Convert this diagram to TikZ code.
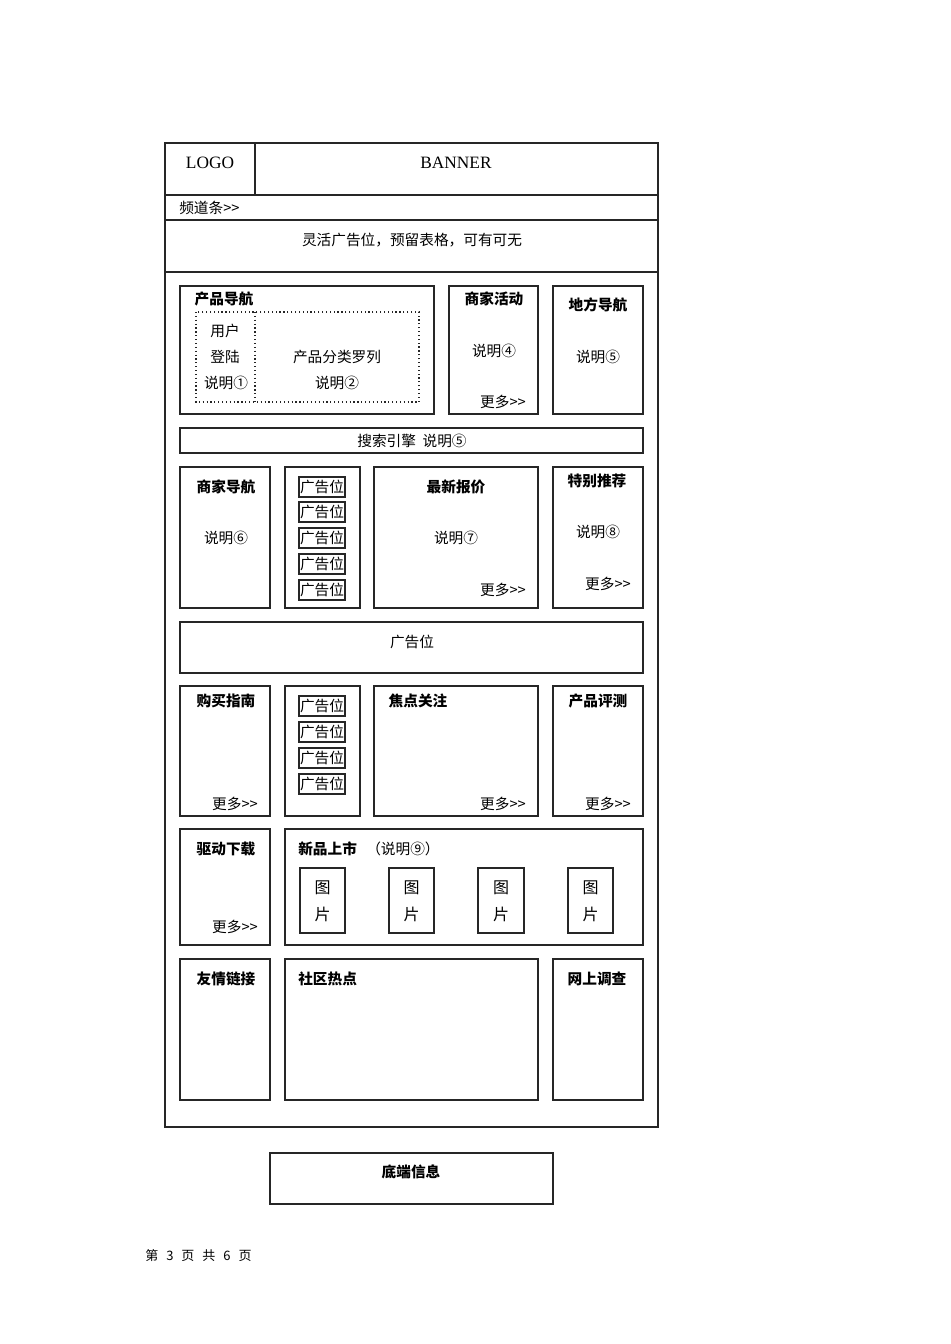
\documentclass[tikz,border=0pt]{standalone}
\usepackage{fontspec}
\setmainfont{Liberation Serif}
\newfontfamily\cjk{Noto Sans CJK SC}
\newfontfamily\cjkb{Noto Sans CJK SC}[BoldFont={Noto Sans CJK SC Bold}]
\begin{document}
\begin{tikzpicture}[x=0.75pt,y=-0.75pt,
  frame/.style={draw=black!85,line width=1.1pt},
  inner/.style={draw=black!85,line width=1pt},
  adbox/.style={draw=black!85,line width=0.9pt,minimum width=34.5pt,minimum height=15pt,inner sep=0pt,font=\cjk\fontsize{11}{12}\selectfont},
  picbox/.style={draw=black!85,line width=1pt},
  lbl/.style={font=\cjk\fontsize{11}{12}\selectfont,inner sep=0pt},
  ttl/.style={font=\cjk\bfseries\fontsize{11}{12}\selectfont,inner sep=0pt},
  lat/.style={font=\fontsize{13}{14}\selectfont,inner sep=0pt}]
\useasboundingbox (0,0) rectangle (950,1344);
% outer frame
\draw[frame] (165,143) rectangle (658,1127);
\draw[frame] (255,143) -- (255,195);
\draw[frame] (165,195) -- (658,195);
\draw[frame] (165,220) -- (658,220);
\draw[frame] (165,272) -- (658,272);
\node[lat] (logo) at (210,163) {LOGO};
\node[lat] (banner) at (456,163) {BANNER};
\node[lbl,anchor=west] (chan) at (179,208) {频道条>>};
\node[lbl] (flex) at (412,240) {灵活广告位，预留表格，可有可无};
% row 1
\draw[inner] (180,286) rectangle (434,414);
\node[ttl] (pnav) at (224,299) {产品导航};
\draw[black!85,line width=0.9pt,dotted] (196,312) rectangle (419,402);
\draw[black!85,line width=0.9pt,dotted] (255,312) -- (255,402);
\node[lbl] (u1) at (225,331) {用户};
\node[lbl] (u2) at (225,357) {登陆};
\node[lbl] (u3) at (226,383) {说明①};
\node[lbl] (c1) at (337,357) {产品分类罗列};
\node[lbl] (c2) at (337,383) {说明②};
\draw[inner] (449,286) rectangle (538,414);
\node[ttl] (shop) at (494,299) {商家活动};
\node[lbl] (shop2) at (494,351) {说明④};
\node[lbl] (shop3) at (503,402) {更多>>};
\draw[inner] (553,286) rectangle (643,414);
\node[ttl] (local) at (598,305) {地方导航};
\node[lbl] (local2) at (598,357) {说明⑤};
% search bar
\draw[inner] (180,428) rectangle (643,453);
\node[lbl] (search) at (412,441) {搜索引擎\ \ 说明⑤};
% row 3
\draw[inner] (180,467) rectangle (270,608);
\node[ttl] (mnav) at (226,487) {商家导航};
\node[lbl] (mnav2) at (226,538) {说明⑥};
\draw[inner] (285,467) rectangle (360,608);
\foreach \yy/\nm in {487/a1,512/a2,538/a3,564/a4,590/a5}
  \node[adbox] (\nm) at (322,\yy) {广告位};
\draw[inner] (374,467) rectangle (538,608);
\node[ttl] (price) at (456,487) {最新报价};
\node[lbl] (price2) at (456,538) {说明⑦};
\node[lbl] (price3) at (503,590) {更多>>};
\draw[inner] (553,467) rectangle (643,608);
\node[ttl] (rec) at (597,481) {特别推荐};
\node[lbl] (rec2) at (598,532) {说明⑧};
\node[lbl] (rec3) at (608,584) {更多>>};
% ad bar
\draw[inner] (180,622) rectangle (643,673);
\node[lbl] (adbar) at (412,642) {广告位};
% row 5
\draw[inner] (180,686) rectangle (270,816);
\node[ttl] (buy) at (226,701) {购买指南};
\node[lbl] (buy2) at (235,804) {更多>>};
\draw[inner] (285,686) rectangle (360,816);
\foreach \yy/\nm in {706/b1,732/b2,758/b3,784/b4}
  \node[adbox] (\nm) at (322,\yy) {广告位};
\draw[inner] (374,686) rectangle (538,816);
\node[ttl] (focus) at (418,701) {焦点关注};
\node[lbl] (focus2) at (503,804) {更多>>};
\draw[inner] (553,686) rectangle (643,816);
\node[ttl] (eval) at (598,701) {产品评测};
\node[lbl] (eval2) at (608,804) {更多>>};
% row 6
\draw[inner] (180,829) rectangle (270,945);
\node[ttl] (drv) at (226,849) {驱动下载};
\node[lbl] (drv2) at (235,927) {更多>>};
\draw[inner] (285,829) rectangle (643,945);
\node[ttl,anchor=west] (newp) at (298,849) {新品上市};
\node[lbl,anchor=west] (newp2) at (366,849) {（说明⑨）};
\foreach \xa/\xb/\nm in {300/345/p1,389/434/p2,478/524/p3,568/613/p4}{
  \draw[picbox] (\xa,868) rectangle (\xb,933);
  \node[lbl,font=\cjk\fontsize{12}{13}\selectfont] (\nm a) at ({(\xa+\xb)/2},888) {图};
  \node[lbl,font=\cjk\fontsize{12}{13}\selectfont] (\nm b) at ({(\xa+\xb)/2},914) {片};
}
% row 7
\draw[inner] (180,959) rectangle (270,1100);
\node[ttl] (links) at (226,979) {友情链接};
\draw[inner] (285,959) rectangle (538,1100);
\node[ttl,anchor=west] (comm) at (298,979) {社区热点};
\draw[inner] (553,959) rectangle (643,1100);
\node[ttl] (survey) at (597,979) {网上调查};
% footer box
\draw[inner] (270,1153) rectangle (553,1204);
\node[ttl] (foot) at (411,1172) {底端信息};
\node[font=\cjk\fontsize{9.75}{11}\selectfont,inner sep=0pt,anchor=west] (page) at (145,1256) {第\hspace{6pt}3\hspace{6pt}页\hspace{6pt}共\hspace{6pt}6\hspace{6pt}页};
\end{tikzpicture}
\end{document}
